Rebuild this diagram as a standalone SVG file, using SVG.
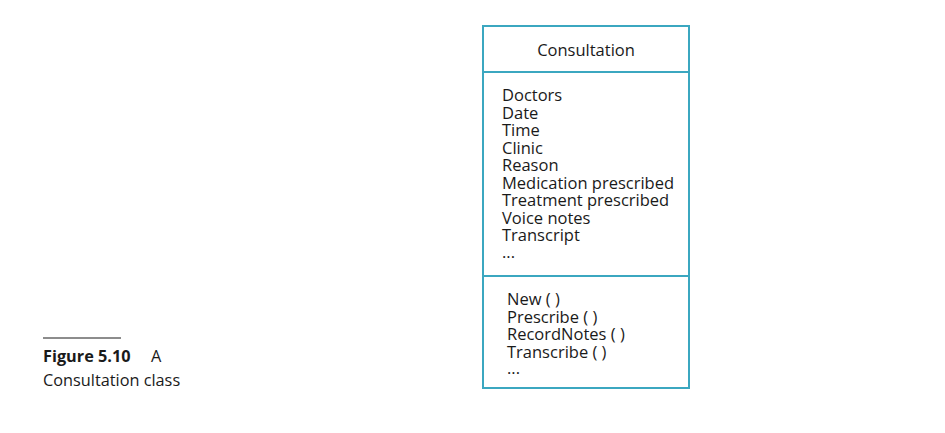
<svg xmlns="http://www.w3.org/2000/svg" width="945" height="433" viewBox="0 0 945 433">
<style>
.t{font-family:"Open Sans","Noto Sans",sans-serif;font-size:16.5px;fill:#1a1a1a}
.c{font-family:"Open Sans","Noto Sans",sans-serif;font-size:16.3px;fill:#1a1a1a}
.b{stroke:#3ba7c0;stroke-width:2;fill:none}
</style>
<rect width="945" height="433" fill="#fff"/>
<g id="consultation">
<rect class="b" x="483" y="26" width="206" height="362"/>
<line class="b" x1="483" y1="72" x2="689" y2="72"/>
<line class="b" x1="483" y1="276" x2="689" y2="276"/>
<text class="t" x="586" y="56" text-anchor="middle">Consultation</text>
<text class="t" x="502" y="101">Doctors</text>
<text class="t" x="502" y="118.5">Date</text>
<text class="t" x="502" y="136">Time</text>
<text class="t" x="502" y="153.5">Clinic</text>
<text class="t" x="502" y="171">Reason</text>
<text class="t" x="502" y="188.5">Medication prescribed</text>
<text class="t" x="502" y="206">Treatment prescribed</text>
<text class="t" x="502" y="223.5">Voice notes</text>
<text class="t" x="502" y="241">Transcript</text>
<text class="t" x="502" y="258">...</text>
<text class="t" x="507" y="305">New ( )</text>
<text class="t" x="507" y="322.5">Prescribe ( )</text>
<text class="t" x="507" y="340">RecordNotes ( )</text>
<text class="t" x="507" y="357.5">Transcribe ( )</text>
<text class="t" x="507" y="374">...</text>
</g>
<g id="caption">
<line x1="43" y1="338" x2="121" y2="338" stroke="#1a1a1a" stroke-width="1"/>
<text class="c" x="43" y="362"><tspan font-weight="bold">Figure 5.10</tspan><tspan x="151">A</tspan></text>
<text class="c" x="43" y="386">Consultation class</text>
</g>
<g id="connectors"/>
</svg>
